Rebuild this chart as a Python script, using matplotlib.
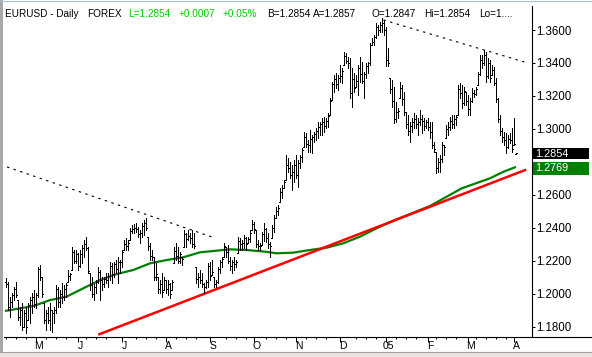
import matplotlib
matplotlib.use('Agg')
import matplotlib.pyplot as plt
import numpy as np
import pandas as pd
from matplotlib.transforms import blended_transform_factory
from matplotlib.patches import Rectangle
from matplotlib.lines import Line2D

plt.rcParams['font.family'] = ['Liberation Sans', 'DejaVu Sans']

# ---------------- data ----------------
dates = pd.bdate_range('2004-04-12', '2005-04-04')

high = [1.2097, 1.2073, 1.1982, 1.2002, 1.2043, 1.2073, 1.1962, 1.1921, 1.1942, 1.1901,
        1.1921, 1.1942, 1.1982, 1.2002, 1.2022, 1.2002, 1.2164, 1.2174, 1.2103, 1.1942,
        1.1901, 1.1921, 1.1942, 1.1901, 1.1921, 1.2053, 1.2043, 1.2022, 1.2063, 1.2053,
        1.2063, 1.2144, 1.2124, 1.2285, 1.2265, 1.2265, 1.2245, 1.2265, 1.2296, 1.2326,
        1.2346, 1.2285, 1.2124, 1.2103, 1.2063, 1.2083, 1.2164, 1.2144, 1.2103, 1.2103,
        1.2124, 1.2124, 1.2194, 1.2184, 1.2194, 1.2205, 1.2225, 1.2205, 1.2265, 1.2326,
        1.2336, 1.2326, 1.2397, 1.2417, 1.2421, 1.2427, 1.2407, 1.2386, 1.2427, 1.2447,
        1.2457, 1.2346, 1.2306, 1.2265, 1.2225, 1.2184, 1.2103, 1.2083, 1.2124, 1.2103,
        1.2083, 1.2083, 1.2063, 1.2083, 1.2285, 1.2306, 1.2285, 1.2255, 1.2225, 1.2386,
        1.2366, 1.2386, 1.2366, 1.2386, 1.2366, 1.2164, 1.2124, 1.2144, 1.2124, 1.2063,
        1.2083, 1.2184, 1.2194, 1.2204, 1.2103, 1.2083, 1.2164, 1.2204, 1.2225, 1.2306,
        1.2285, 1.2295, 1.2225, 1.2204, 1.2225, 1.2204, 1.2346, 1.2336, 1.2326, 1.2356,
        1.2346, 1.2346, 1.2386, 1.2447, 1.2437, 1.2386, 1.2326, 1.2306, 1.2376, 1.2427,
        1.2396, 1.2366, 1.2315, 1.2417, 1.2477, 1.2528, 1.2538, 1.2639, 1.2659, 1.2690,
        1.2842, 1.2821, 1.2801, 1.2781, 1.2811, 1.2842, 1.2811, 1.2842, 1.2882, 1.2983,
        1.2973, 1.2933, 1.2993, 1.2963, 1.2983, 1.3003, 1.3044, 1.3044, 1.3064, 1.3074,
        1.3064, 1.3094, 1.3185, 1.3286, 1.3327, 1.3337, 1.3327, 1.3388, 1.3367, 1.3469,
        1.3458, 1.3438, 1.3428, 1.3367, 1.3337, 1.3327, 1.3388, 1.3438, 1.3408, 1.3347,
        1.3398, 1.3408, 1.3519, 1.3549, 1.3570, 1.3640, 1.3630, 1.3651, 1.3671, 1.3661,
        1.3620, 1.3490, 1.3307, 1.3297, 1.3256, 1.3165, 1.3125, 1.3286, 1.3266, 1.3226,
        1.3104, 1.3084, 1.3044, 1.3064, 1.3094, 1.3084, 1.3064, 1.3115, 1.3084, 1.3064,
        1.3054, 1.3064, 1.3044, 1.3044, 1.2922, 1.2862, 1.2821, 1.2842, 1.2922, 1.2902,
        1.3024, 1.3044, 1.3074, 1.3084, 1.3084, 1.3084, 1.3266, 1.3276, 1.3266, 1.3256,
        1.3226, 1.3206, 1.3185, 1.3246, 1.3236, 1.3256, 1.3347, 1.3448, 1.3448, 1.3479,
        1.3469, 1.3428, 1.3418, 1.3388, 1.3378, 1.3307, 1.3185, 1.3084, 1.3003, 1.2983,
        1.2973, 1.2963, 1.2973, 1.3003, 1.3064, 1.2854]

low = [1.2043, 1.1901, 1.1861, 1.1921, 1.1962, 1.1982, 1.1840, 1.1810, 1.1780, 1.1800,
       1.1760, 1.1840, 1.1820, 1.1881, 1.1921, 1.1911, 1.1982, 1.2083, 1.1982, 1.1820,
       1.1780, 1.1820, 1.1780, 1.1770, 1.1820, 1.1881, 1.1921, 1.1921, 1.1942, 1.1962,
       1.1982, 1.2073, 1.2083, 1.2144, 1.2184, 1.2184, 1.2144, 1.2164, 1.2184, 1.2225,
       1.2265, 1.2124, 1.2022, 1.1982, 1.1962, 1.2002, 1.2063, 1.1962, 1.2022, 1.2043,
       1.2063, 1.2043, 1.2083, 1.2063, 1.2103, 1.2124, 1.2063, 1.2124, 1.2164, 1.2265,
       1.2265, 1.2265, 1.2326, 1.2366, 1.2366, 1.2376, 1.2346, 1.2306, 1.2346, 1.2356,
       1.2386, 1.2265, 1.2204, 1.2204, 1.2083, 1.2083, 1.2002, 1.2002, 1.1982, 1.2022,
       1.2002, 1.1992, 1.1972, 1.2022, 1.2184, 1.2204, 1.2184, 1.2184, 1.2174, 1.2285,
       1.2285, 1.2326, 1.2306, 1.2285, 1.2275, 1.2063, 1.2043, 1.2063, 1.2043, 1.2002,
       1.2033, 1.2043, 1.2083, 1.2114, 1.2043, 1.2043, 1.2063, 1.2124, 1.2164, 1.2225,
       1.2225, 1.2184, 1.2144, 1.2124, 1.2144, 1.2164, 1.2245, 1.2265, 1.2265, 1.2275,
       1.2265, 1.2306, 1.2316, 1.2386, 1.2366, 1.2285, 1.2265, 1.2265, 1.2295, 1.2320,
       1.2315, 1.2275, 1.2224, 1.2336, 1.2376, 1.2457, 1.2477, 1.2558, 1.2578, 1.2639,
       1.2690, 1.2740, 1.2700, 1.2629, 1.2680, 1.2700, 1.2649, 1.2761, 1.2801, 1.2892,
       1.2892, 1.2862, 1.2862, 1.2852, 1.2922, 1.2933, 1.2943, 1.2963, 1.2963, 1.2983,
       1.3003, 1.3013, 1.3084, 1.3175, 1.3226, 1.3246, 1.3236, 1.3286, 1.3276, 1.3388,
       1.3398, 1.3367, 1.3185, 1.3135, 1.3226, 1.3256, 1.3206, 1.3286, 1.3276, 1.3185,
       1.3307, 1.3337, 1.3388, 1.3509, 1.3509, 1.3549, 1.3570, 1.3590, 1.3590, 1.3570,
       1.3380, 1.3380, 1.3216, 1.3135, 1.3034, 1.3044, 1.3064, 1.3185, 1.3145, 1.3084,
       1.3003, 1.2963, 1.2922, 1.2983, 1.3003, 1.3003, 1.2963, 1.3024, 1.2973, 1.2993,
       1.3003, 1.2993, 1.2943, 1.2882, 1.2862, 1.2730, 1.2740, 1.2740, 1.2801, 1.2842,
       1.2943, 1.2963, 1.2993, 1.3003, 1.3003, 1.3024, 1.3084, 1.3185, 1.3125, 1.3145,
       1.3145, 1.3084, 1.3084, 1.3165, 1.3195, 1.3206, 1.3266, 1.3327, 1.3367, 1.3388,
       1.3286, 1.3307, 1.3286, 1.3327, 1.3266, 1.3165, 1.3044, 1.2963, 1.2922, 1.2902,
       1.2852, 1.2882, 1.2912, 1.2862, 1.2902, 1.2847]

close = [1.2060, 1.1920, 1.1950, 1.1990, 1.2030, 1.1990, 1.1860, 1.1900, 1.1800, 1.1880,
         1.1800, 1.1930, 1.1960, 1.1980, 1.1940, 1.1990, 1.2150, 1.2100, 1.2000, 1.1840,
         1.1880, 1.1840, 1.1900, 1.1880, 1.1900, 1.2030, 1.1950, 1.2000, 1.1980, 1.2030,
         1.2050, 1.2110, 1.2120, 1.2250, 1.2200, 1.2240, 1.2170, 1.2240, 1.2280, 1.2300,
         1.2280, 1.2140, 1.2050, 1.2000, 1.2040, 1.2070, 1.2130, 1.2080, 1.2060, 1.2090,
         1.2080, 1.2110, 1.2170, 1.2120, 1.2180, 1.2150, 1.2190, 1.2190, 1.2250, 1.2300,
         1.2290, 1.2310, 1.2380, 1.2390, 1.2400, 1.2390, 1.2360, 1.2370, 1.2410, 1.2430,
         1.2400, 1.2290, 1.2230, 1.2220, 1.2100, 1.2120, 1.2030, 1.2060, 1.2010, 1.2080,
         1.2030, 1.2060, 1.2000, 1.2070, 1.2260, 1.2230, 1.2200, 1.2240, 1.2210, 1.2360,
         1.2330, 1.2350, 1.2340, 1.2300, 1.2290, 1.2090, 1.2100, 1.2080, 1.2060, 1.2040,
         1.2070, 1.2170, 1.2110, 1.2130, 1.2060, 1.2070, 1.2150, 1.2190, 1.2210, 1.2290,
         1.2250, 1.2200, 1.2170, 1.2190, 1.2180, 1.2190, 1.2320, 1.2300, 1.2310, 1.2340,
         1.2300, 1.2330, 1.2370, 1.2420, 1.2390, 1.2300, 1.2290, 1.2290, 1.2360, 1.2390,
         1.2340, 1.2300, 1.2290, 1.2400, 1.2460, 1.2500, 1.2520, 1.2620, 1.2640, 1.2680,
         1.2780, 1.2760, 1.2720, 1.2740, 1.2780, 1.2720, 1.2790, 1.2830, 1.2870, 1.2950,
         1.2910, 1.2900, 1.2940, 1.2950, 1.2970, 1.2990, 1.3010, 1.3030, 1.3040, 1.3020,
         1.3050, 1.3080, 1.3170, 1.3270, 1.3300, 1.3270, 1.3310, 1.3320, 1.3350, 1.3440,
         1.3410, 1.3400, 1.3220, 1.3300, 1.3250, 1.3290, 1.3370, 1.3330, 1.3290, 1.3330,
         1.3380, 1.3400, 1.3510, 1.3530, 1.3560, 1.3620, 1.3600, 1.3630, 1.3640, 1.3600,
         1.3420, 1.3400, 1.3240, 1.3170, 1.3060, 1.3100, 1.3110, 1.3250, 1.3180, 1.3100,
         1.3030, 1.2990, 1.3020, 1.3040, 1.3060, 1.3030, 1.3040, 1.3060, 1.3050, 1.3020,
         1.3040, 1.3010, 1.2980, 1.2900, 1.2880, 1.2760, 1.2800, 1.2820, 1.2900, 1.2890,
         1.3000, 1.3010, 1.3050, 1.3030, 1.3060, 1.3070, 1.3240, 1.3220, 1.3160, 1.3230,
         1.3170, 1.3120, 1.3170, 1.3220, 1.3210, 1.3240, 1.3330, 1.3420, 1.3400, 1.3450,
         1.3320, 1.3400, 1.3310, 1.3360, 1.3280, 1.3180, 1.3060, 1.2990, 1.2950, 1.2930,
         1.2890, 1.2940, 1.2930, 1.2880, 1.2910, 1.2854]

first_open = 1.2070
last_open = 1.2847

# moving average read at bar positions
ma_idx = [-0.5, 13.7, 22, 30.3, 38.7, 47, 55.3, 63.7, 72, 80.3, 88.7, 97, 103.7, 112,
          120.3, 129.5, 135.3, 143.7, 152, 160.3, 168.7, 177, 185.3, 194.5, 212, 227.8,
          242, 248.7, 255]
ma_val = [1.1895, 1.1925, 1.1961, 1.1982, 1.2033, 1.2083, 1.2119, 1.2144, 1.2184, 1.2204,
          1.2221, 1.2251, 1.2259, 1.2269, 1.2265, 1.2255, 1.2245, 1.2249, 1.2265, 1.2279,
          1.2306, 1.2346, 1.2397, 1.2447, 1.2532, 1.2639, 1.2700, 1.2740, 1.2769]

# trend lines: (bar index, price)
red_trend = [(46.7, 1.1754), (259.5, 1.2750)]
dot_trend1 = [(0.5, 1.2769), (103.0, 1.2344)]
dot_trend2 = [(188.7, 1.3661), (260.0, 1.3403)]

y_ticks = [1.18, 1.20, 1.22, 1.24, 1.26, 1.28, 1.30, 1.32, 1.34, 1.36]
month_labels = ['M', 'J', 'J', 'A', 'S', 'O', 'N', 'D', '05', 'F', 'M', 'A']

last_price = 1.2854
last_ma = 1.2769

header = [('EURUSD - Daily', 'k'), ('FOREX', 'k'), ('L=1.2854', 'g'), ('+0.0007', 'g'),
          ('+0.05%', 'g'), ('B=1.2854', 'k'), ('A=1.2857', 'k'), ('O=1.2847', 'k'),
          ('Hi=1.2854', 'k'), ('Lo=1....', 'k')]
header_x = [5, 87, 128, 179, 223, 267, 313, 371, 424, 479]

# ---------------- figure ----------------
W, H = 592, 357
fig = plt.figure(figsize=(W / 100, H / 100), dpi=100)
fig.patch.set_facecolor('white')

def fx(px):
    return px / W

def fy(py):
    return 1 - py / H

ax_l, ax_r, ax_t, ax_b = 4, 532, 17, 337
ax = fig.add_axes([fx(ax_l), fy(ax_b), fx(ax_r) - fx(ax_l), fy(ax_t) - fy(ax_b)])
ax.set_facecolor('white')
for s in ax.spines.values():
    s.set_visible(False)

n = len(dates)
x = np.arange(n)
hi = np.array(high)
lo = np.array(low)
cl = np.array(close)
op = np.r_[first_open, cl[:-1]]
op[-1] = last_open
op = np.clip(op, lo, hi)

ax.set_xlim(-1, 263)
ax.set_ylim(1.17371, 1.36789)

# moving average and trend lines
ax.plot(ma_idx, ma_val, color='#008000', lw=1.6, solid_capstyle='butt', zorder=2)
ax.plot([p[0] for p in red_trend], [p[1] for p in red_trend], color='#ff0000', lw=1.8,
        zorder=3)
for tl in (dot_trend1, dot_trend2):
    ax.plot([p[0] for p in tl], [p[1] for p in tl], color='k', lw=0.8,
            dashes=(2.2, 4.0), zorder=2)

# OHLC bars
ax.vlines(x, lo, hi, colors='k', lw=0.72, antialiased=False, zorder=4)
ax.hlines(op, x - 0.55, x, colors='k', lw=0.72, antialiased=False, zorder=4)
ax.hlines(cl, x, x + 0.55, colors='k', lw=0.72, antialiased=False, zorder=4)

# x axis: months (major) and weeks (minor)
months = dates.to_period('M')
major = [i for i in range(1, n) if months[i] != months[i - 1]]
minor = [i for i in range(n) if dates[i].weekday() == 0 and all(abs(i - m) > 3 for m in major)]
ax.set_xticks(major)
ax.set_xticklabels([''] * len(major))
ax.set_xticks(minor, minor=True)
ax.tick_params(axis='x', which='major', direction='out', length=3.6, width=0.75,
               color='k', bottom=True, top=False)
ax.tick_params(axis='x', which='minor', direction='out', length=1.3, width=0.75,
               color='k', bottom=True, top=False)
trans_xlab = blended_transform_factory(ax.transData, fig.transFigure)
for pos, lab in zip(major, month_labels):
    ax.text(pos + 1.3, fy(346), lab, transform=trans_xlab, ha='center', va='center',
            fontsize=7.5, color='k', clip_on=False)

# y axis on right (1.2800 sits under the value boxes)
ax.yaxis.tick_right()
ax.set_yticks(y_ticks)
ax.set_yticklabels(['' if abs(v - 1.28) < 1e-9 else '%.4f' % v for v in y_ticks])
ax.tick_params(axis='y', which='major', direction='out', length=2.2, width=0.75,
               pad=0.6, labelsize=8.3, color='k', left=False, right=True)

# value boxes on the right
tb = blended_transform_factory(fig.transFigure, ax.transData)
boxes = [(last_price, '#000000', 0.0039, 0.0032), (last_ma, '#008000', 0.0049, 0.0032)]
for val, col, dn, up in boxes:
    r = Rectangle((fx(532.5), val - dn), fx(589) - fx(532.5), dn + up, transform=tb,
                  facecolor=col, edgecolor='none', clip_on=False, zorder=10)
    ax.add_patch(r)
    ax.text(fx(535.5), val - dn + (dn + up) / 2, '%.4f' % val, transform=tb, color='white',
            fontsize=7.8, ha='left', va='center', clip_on=False, zorder=11)

# frame
fig.add_artist(Rectangle((0, 0), fx(3), 1, transform=fig.transFigure,
                         facecolor='#a8a8a8', edgecolor='none', zorder=-2))
fig.add_artist(Rectangle((0, 0), 1, fy(352), transform=fig.transFigure,
                         facecolor='#ece4e4', edgecolor='none', zorder=-2))
fig.add_artist(Line2D([0, 1], [fy(352), fy(352)], color='#a0a0a0', lw=0.8))
fig.add_artist(Line2D([0, 1], [fy(0.5), fy(0.5)], color='#b0bcd0', lw=0.8))
fig.add_artist(Line2D([fx(4), fx(592)], [fy(337), fy(337)], color='k', lw=0.8))
fig.add_artist(Line2D([fx(532), fx(532)], [fy(6), fy(337)], color='k', lw=0.8))

# header
for (txt, c), hx in zip(header, header_x):
    fig.text(fx(hx), fy(17.3), txt, color=('#00cc00' if c == 'g' else 'k'),
             fontsize=7.2, ha='left', va='baseline')

fig.savefig('out.png', dpi=100)
